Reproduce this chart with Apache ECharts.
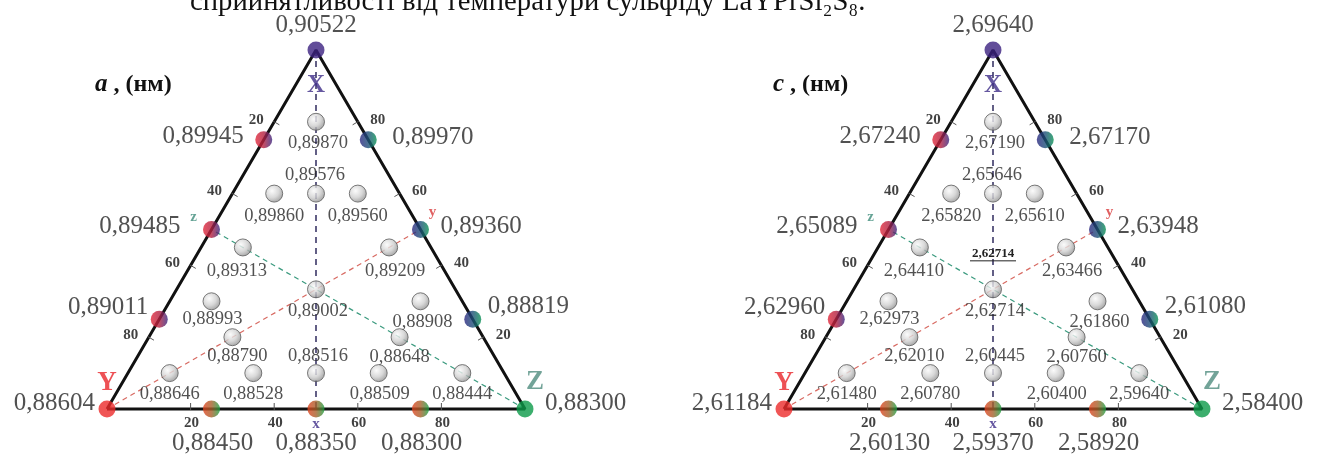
<!DOCTYPE html>
<html><head><meta charset="utf-8">
<script src="https://cdn.jsdelivr.net/npm/echarts@6/dist/echarts.min.js"></script>
<style>html,body{margin:0;padding:0;background:#fff;overflow:hidden}#c{width:1319px;height:458px}</style>
</head><body><div id="c"></div>
<script>
// ================= DATA =================
// compositions are [X %, Y %, Z %]
const vertexComps = [[100,0,0],[0,100,0],[0,0,100]];               // X, Y, Z
const edgeComps = [[75,25,0],[50,50,0],[25,75,0],                  // X–Y edge
                   [75,0,25],[50,0,50],[25,0,75],                  // X–Z edge
                   [0,75,25],[0,50,50],[0,25,75]];                 // Y–Z edge
const innerComps = [[80,10,10],[60,20,20],[60,30,10],[60,10,30],[45,45,10],
                    [100/3,100/3,100/3],[30,60,10],[20,60,20],[10,80,10],[10,60,30],
                    [10,45,45],[45,10,45],[30,10,60],[20,20,60],[10,30,60],[10,10,80]];
const aVertexValues = [0.90522, 0.88604, 0.88300];
const aEdgeValues   = [0.89945, 0.89485, 0.89011, 0.89970, 0.89360, 0.88819, 0.88450, 0.88350, 0.88300];
const aInnerValues  = [0.89870, 0.89576, 0.89860, 0.89560, 0.89313, 0.89002, 0.88993, 0.88790,
                       0.88646, 0.88528, 0.88516, 0.89209, 0.88908, 0.88648, 0.88509, 0.88444];
const cVertexValues = [2.69640, 2.61184, 2.58400];
const cEdgeValues   = [2.67240, 2.65089, 2.62960, 2.67170, 2.63948, 2.61080, 2.60130, 2.59370, 2.58920];
const cInnerValues  = [2.67190, 2.65646, 2.65820, 2.65610, 2.64410, 2.62714, 2.62973, 2.62010,
                       2.61480, 2.60780, 2.60445, 2.63466, 2.61860, 2.60760, 2.60400, 2.59640];
const tickValues = [20, 40, 60, 80];
const panelLetters = ['a', 'c'];
const unitText = '(нм)';
const vertexNames = ['X', 'Y', 'Z'];
const midNames = ['x', 'y', 'z'];
const headerText = 'сприйнятливості від температури сульфіду LaYPrSi\u2082S\u2088.';

// ================= LAYOUT / STYLE =================
const H = Math.sqrt(3) / 2;
const SERIF = '"Liberation Serif","DejaVu Serif",serif';
const panels = [
  { left: 107, vertex: aVertexValues, edge: aEdgeValues, inner: aInnerValues, underline: false },
  { left: 784, vertex: cVertexValues, edge: cEdgeValues, inner: cInnerValues, underline: true }
];
const vertexLabelLayout = [
  { align: 'center', off: [0, -25] },
  { align: 'right', off: [-12, -6] },
  { align: 'left', off: [20, -6] }
];
const edgeLabelLayout = [
  { align: 'right', off: [-20, -3] }, { align: 'right', off: [-31, -3] }, { align: 'right', off: [-11, -12] },
  { align: 'left', off: [24, -2] }, { align: 'left', off: [20, -3] }, { align: 'left', off: [15, -13] },
  { align: 'center', off: [1, 34] }, { align: 'center', off: [0, 34] }, { align: 'center', off: [1, 34] }
];
const innerLabelOff = [[2,21],[-1,-18],[0,23],[0,23],[-6,24],[2,22],[1,18],[5,19],[0,21],[0,21],
                       [2,-17],[6,24],[2,21],[0,20],[1,21],[0,21]];
const vertexColors = ['#3b2080', '#ec2a2a', '#0b9a48'];
const edgeGrad = [
  [[0, '#e3283a'], [0.5, '#b3203f'], [1, '#3a2680']],
  [[0, '#2b2680'], [0.5, '#1d4f78'], [1, '#0b9455']],
  [[0, '#e2441f'], [0.5, '#a5602a'], [1, '#1ea244']]
];
const letterStyle = {
  X: { color: '#3f2d88', size: 25, off: [0, 36] },
  Y: { color: '#e8262a', size: 27, off: [0, -26] },
  Z: { color: '#4f8c7e', size: 27, off: [10, -27] },
  x: { color: '#3f2d88', size: 15, off: [0, 15] },
  y: { color: '#d8383a', size: 15, off: [12, -17] },
  z: { color: '#3f8c7a', size: 15, off: [-18, -12] }
};
const tickLabelOff = [[-18, -2], [20, -2], [1, 14]];   // edge 0: X-Y (Y%), 1: X-Z (X%), 2: Y-Z (Z%)
const tickNormals = [[0.864, 0.503], [-0.864, 0.503], [0, -1]];

function pt(c) { const s = c[0] + c[1] + c[2]; const x = c[0] / s, z = c[2] / s; return [z + x / 2, x * H]; }
function fmt(v) { return v.toFixed(5).replace('.', ','); }

const chart = echarts.init(document.getElementById('c'), null, { renderer: 'canvas' });
const grids = [], xAxes = [], yAxes = [], series = [];

panels.forEach((P, i) => {
  grids.push({ left: P.left, top: 50, width: 418, height: 359 });
  xAxes.push({ gridIndex: i, type: 'value', min: 0, max: 1, show: false });
  yAxes.push({ gridIndex: i, type: 'value', min: 0, max: H, show: false });
  const ax = { xAxisIndex: i, yAxisIndex: i, silent: true, animation: false };

  // medians
  const medians = [
    { from: [100,0,0], to: [0,50,50], color: '#3c3868', width: 1.6, dash: [6, 5] },
    { from: [0,100,0], to: [50,0,50], color: '#d86a62', width: 1.2, dash: [5, 4] },
    { from: [0,0,100], to: [50,50,0], color: '#3a9a7e', width: 1.2, dash: [5, 4] }
  ];
  medians.forEach(m => series.push(Object.assign({
    type: 'line', data: [pt(m.from), pt(m.to)], symbol: 'none', clip: false, z: 2,
    lineStyle: { color: m.color, width: m.width, type: m.dash }
  }, ax)));

  // triangle outline
  series.push(Object.assign({
    type: 'line', data: [pt(vertexComps[1]), pt(vertexComps[2]), pt(vertexComps[0]), pt(vertexComps[1])],
    symbol: 'none', clip: false, z: 3, lineStyle: { color: '#111', width: 3 }
  }, ax));

  // ticks + tick labels
  const ticks = [];
  tickValues.forEach(t => {
    ticks.push({ comp: [100 - t, t, 0], edge: 0, t });
    ticks.push({ comp: [t, 0, 100 - t], edge: 1, t });
    ticks.push({ comp: [0, 100 - t, t], edge: 2, t });
  });
  series.push(Object.assign({
    type: 'custom', clip: false, z: 4,
    data: ticks.map(k => [...pt(k.comp), k.edge]),
    renderItem: (params, api) => {
      const p = api.coord([api.value(0), api.value(1)]);
      const n = tickNormals[api.value(2)];
      return { type: 'line', shape: { x1: p[0] - n[0] * 1, y1: p[1] - n[1] * 1, x2: p[0] + n[0] * 6, y2: p[1] + n[1] * 6 },
               style: { stroke: '#555', lineWidth: 1 } };
    }
  }, ax));
  series.push(Object.assign({
    type: 'scatter', symbolSize: 0, clip: false, z: 5,
    data: ticks.map(k => ({ value: pt(k.comp), label: { formatter: String(k.t), offset: tickLabelOff[k.edge] } })),
    label: { show: true, position: 'inside', color: '#111', fontFamily: SERIF, fontWeight: 'bold', fontSize: 15 }
  }, ax));

  // letters
  const letterData = [];
  vertexNames.forEach((nm, k) => letterData.push({ nm, pos: pt(vertexComps[k]) }));
  letterData.push({ nm: 'x', pos: pt([0, 50, 50]) });
  letterData.push({ nm: 'y', pos: pt([50, 0, 50]) });
  letterData.push({ nm: 'z', pos: pt([50, 50, 0]) });
  series.push(Object.assign({
    type: 'scatter', symbolSize: 0, clip: false, z: 6,
    data: letterData.map(d => {
      const s = letterStyle[d.nm];
      return { value: d.pos, label: { formatter: d.nm, offset: s.off, color: s.color, fontSize: s.size } };
    }),
    label: { show: true, position: 'inside', fontFamily: SERIF, fontWeight: 'bold' }
  }, ax));

  // inner grey points
  series.push(Object.assign({
    type: 'scatter', symbolSize: 17, clip: false, z: 7,
    itemStyle: {
      color: new echarts.graphic.RadialGradient(0.38, 0.35, 0.75, [
        { offset: 0, color: '#fafafa' }, { offset: 0.5, color: '#cfcfcf' }, { offset: 1, color: '#7e7e7e' }]),
      borderColor: '#5a5a5a', borderWidth: 1
    },
    data: innerComps.map((c, k) => ({ value: pt(c), label: { formatter: fmt(P.inner[k]), offset: innerLabelOff[k] } })),
    label: { show: true, position: 'inside', color: '#262626', fontFamily: SERIF, fontSize: 18.5 }
  }, ax));

  // edge points
  series.push(Object.assign({
    type: 'scatter', symbolSize: 17, clip: false, z: 8,
    data: edgeComps.map((c, k) => {
      const g = edgeGrad[Math.floor(k / 3)];
      return {
        value: pt(c),
        itemStyle: { color: new echarts.graphic.LinearGradient(0, 0, 1, 0, g.map(s => ({ offset: s[0], color: s[1] }))) },
        label: { formatter: fmt(P.edge[k]), align: edgeLabelLayout[k].align, offset: edgeLabelLayout[k].off }
      };
    }),
    label: { show: true, position: 'inside', color: '#262626', fontFamily: SERIF, fontSize: 25 }
  }, ax));

  // vertex points
  series.push(Object.assign({
    type: 'scatter', symbolSize: 17, clip: false, z: 9,
    data: vertexComps.map((c, k) => ({
      value: pt(c), itemStyle: { color: vertexColors[k] },
      label: { formatter: fmt(P.vertex[k]), align: vertexLabelLayout[k].align, offset: vertexLabelLayout[k].off }
    })),
    label: { show: true, position: 'inside', color: '#262626', fontFamily: SERIF, fontSize: 25 }
  }, ax));

  // underlined centroid value (right panel)
  if (P.underline) {
    series.push(Object.assign({
      type: 'custom', clip: false, z: 10,
      data: [[...pt(innerComps[5]), P.inner[5]]],
      renderItem: (params, api) => {
        const p = api.coord([api.value(0), api.value(1)]);
        const txt = fmt(api.value(2));
        return { type: 'group', children: [
          { type: 'text', x: p[0], y: p[1] - 36,
            style: { text: txt, font: 'bold 13px ' + SERIF, fill: '#222', align: 'center', verticalAlign: 'middle',
                     textAlign: 'center', textVerticalAlign: 'middle' } },
          { type: 'line', shape: { x1: p[0] - 23, y1: p[1] - 28.5, x2: p[0] + 23, y2: p[1] - 28.5 },
            style: { stroke: '#222', lineWidth: 1 } }
        ] };
      }
    }, ax));
  }
});

const graphic = [
  { type: 'text', x: 190, y: 17, silent: true,
    style: { text: headerText, font: '28.7px ' + SERIF, fill: '#111', verticalAlign: 'bottom', textVerticalAlign: 'bottom' } }
];
panels.forEach((P, i) => {
  graphic.push({
    type: 'text', x: i === 0 ? 95 : 773, y: 85, silent: true,
    style: {
      text: '{i|' + panelLetters[i] + '}{b| , ' + unitText + '}',
      verticalAlign: 'middle', textVerticalAlign: 'middle',
      rich: {
        i: { fontFamily: SERIF, fontWeight: 'bold', fontStyle: 'italic', fontSize: 25, fill: '#111', color: '#111' },
        b: { fontFamily: SERIF, fontWeight: 'bold', fontSize: 24, fill: '#111', color: '#111' }
      }
    }
  });
});

chart.setOption({ animation: false, grid: grids, xAxis: xAxes, yAxis: yAxes, series, graphic });
</script></body></html>
